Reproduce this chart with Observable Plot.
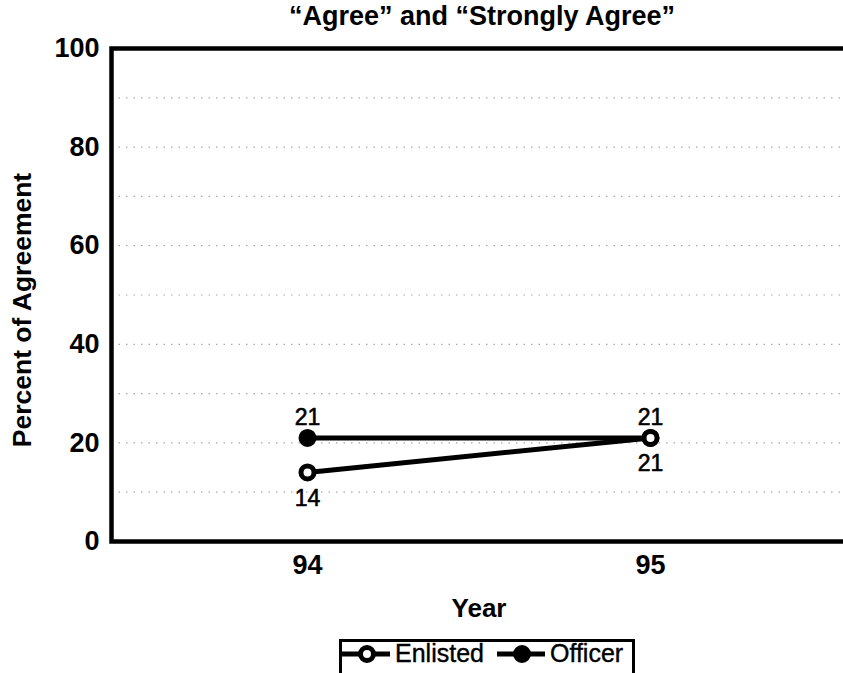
<!DOCTYPE html>
<html>
<head>
<meta charset="utf-8">
<script src="https://cdn.jsdelivr.net/npm/d3@7"></script>
<script src="https://cdn.jsdelivr.net/npm/@observablehq/plot@0.6"></script>
<style>
  html, body { margin: 0; padding: 0; background: #fff; overflow: hidden; }
  body { position: relative; width: 843px; height: 673px; font-family: "Liberation Sans", Arial, sans-serif; }
  #title { position: absolute; left: 111px; top: 0; width: 742px; height: 32px; line-height: 32px; text-align: center;
    font-weight: bold; font-size: 27px; color: #000; }
  #chart { position: absolute; left: 0; top: 30px; }
  #legend { position: absolute; left: 339px; top: 639px; width: 290px; height: 40px; border: 3px solid #000; box-sizing: content-box;
    display: flex; align-items: flex-start; font-size: 25px; color: #000; -webkit-text-stroke: 0.4px #000; }
  #legend .item { display: flex; align-items: center; height: 29px; margin-top: -3px; }
  #legend svg { display: block; }
</style>
</head>
<body>
<div id="title">“Agree” and “Strongly Agree”</div>
<div id="chart"></div>
<div id="legend"></div>
<script>
const years = ["94", "95"];
const seriesNames = ["Enlisted", "Officer"];
const enlistedValues = [14, 21];
const officerValues = [21, 21];
const yTicks = [0, 20, 40, 60, 80, 100];
const gridValues = [10, 20, 30, 40, 50, 60, 70, 80, 90];
const yLabel = "Percent of Agreement";
const xLabel = "Year";

// Officer first so Enlisted markers draw on top
const data = [];
years.forEach((yr, i) => {
  data.push({year: yr, value: officerValues[i], group: "Officer"});
});
years.forEach((yr, i) => {
  data.push({year: yr, value: enlistedValues[i], group: "Enlisted"});
});
const officerData = data.filter(d => d.group === "Officer");
const enlistedData = data.filter(d => d.group === "Enlisted");

const chart = Plot.plot({
  width: 843,
  height: 600,
  marginLeft: 111,
  marginRight: -3,
  marginTop: 18,
  marginBottom: 89,
  style: {background: "transparent", fontFamily: "'Liberation Sans', Arial, sans-serif", color: "#000"},
  x: {type: "point", domain: years, padding: 0.57},
  y: {domain: [0, 100]},
  marks: [
    Plot.ruleY(gridValues, {stroke: "#aaa", strokeWidth: 1.2, strokeDasharray: "1.5 6"}),
    Plot.frame({stroke: "#000", strokeWidth: 4.5}),
    Plot.axisY({ticks: yTicks, tickSize: 0, tickPadding: 12, fontSize: 27, fontWeight: "bold", label: null}),
    Plot.axisX({tickSize: 0, tickPadding: 13, fontSize: 27, fontWeight: "bold", label: null}),
    Plot.text([xLabel], {text: d => d, frameAnchor: "bottom", dy: 75, fontSize: 26, fontWeight: "bold"}),
    Plot.text([yLabel], {text: d => d, frameAnchor: "left", textAnchor: "middle", rotate: -90, dx: -89, dy: 15,
      fontSize: 26.5, fontWeight: "bold"}),
    Plot.line(data, {x: "year", y: "value", z: "group", stroke: "#000", strokeWidth: 5}),
    Plot.dot(data, {x: "year", y: "value", r: 6.5, stroke: "#000", strokeWidth: 5,
      fill: d => d.group === "Officer" ? "#000" : "#fff"}),
    Plot.text(officerData, {x: "year", y: "value", text: d => String(d.value), dy: -20, fontSize: 23,
      fill: "#000", stroke: "#000", strokeWidth: 0.6}),
    Plot.text(enlistedData, {x: "year", y: "value", text: d => String(d.value), dy: 26, fontSize: 23,
      fill: "#000", stroke: "#000", strokeWidth: 0.6})
  ]
});
document.getElementById("chart").appendChild(chart);

// Legend
const legend = document.getElementById("legend");
seriesNames.forEach((name, i) => {
  const item = document.createElement("div");
  item.className = "item";
  const sw = d3.create("svg").attr("width", 48).attr("height", 24);
  sw.append("line").attr("x1", 0).attr("x2", 48).attr("y1", 12).attr("y2", 12)
    .attr("stroke", "#000").attr("stroke-width", 5);
  sw.append("circle").attr("cx", 25).attr("cy", 12).attr("r", 6.5)
    .attr("stroke", "#000").attr("stroke-width", 5)
    .attr("fill", name === "Officer" ? "#000" : "#fff");
  item.appendChild(sw.node());
  const label = document.createElement("span");
  label.textContent = name;
  label.style.marginLeft = "5px";
  item.appendChild(label);
  if (i === 0) item.style.marginRight = "13px";
  legend.appendChild(item);
});
</script>
</body>
</html>
